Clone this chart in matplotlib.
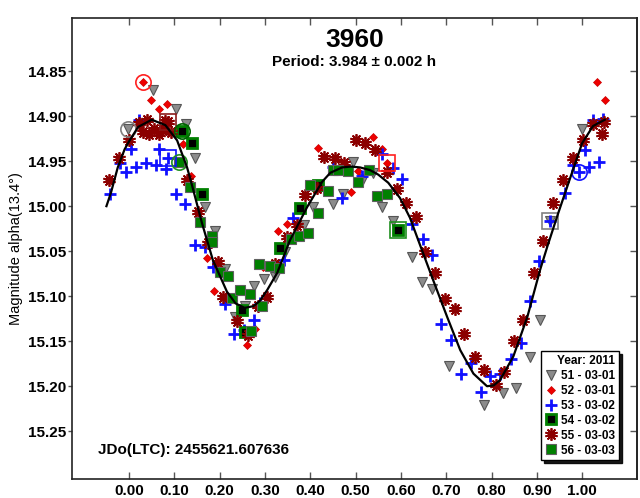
import numpy as np
import matplotlib.pyplot as plt

plt.rcParams['font.family'] = ['Liberation Sans', 'DejaVu Sans']
plt.rcParams['font.weight'] = 'bold'

# Phased photometry, one pair of lists per session (phase, magnitude)
s51_phase = [-0.002, 0.053, 0.104, 0.126, 0.146, 0.168, 0.19, 0.212, 0.234, 0.256, 0.276,
             0.298, 0.322, 0.344, 0.386, 0.406, 0.45, 0.472, 0.494, 0.517, 0.539, 0.559,
             0.583, 0.625, 0.647, 0.669, 0.706, 0.784, 0.826, 0.854, 0.885, 0.907, 0.929, 1.0]
s51_mag = [14.914, 14.871, 14.892, 14.909, 14.947, 15.001, 15.028, 15.07, 15.123, 15.111, 15.089,
           15.081, 15.079, 15.051, 15.021, 15.001, 14.998, 14.986, 14.951, 14.97, 14.963, 15.001,
           15.016, 15.057, 15.084, 15.092, 15.177, 15.221, 15.208, 15.202, 15.167, 15.126, 15.016, 14.914]

s52_phase = [0.031, 0.049, 0.066, 0.084, 0.119, 0.137, 0.172, 0.188, 0.26, 0.278, 0.296,
             0.329, 0.348, 0.417, 0.49, 0.505, 0.539, 0.559, 0.57, 1.033, 1.051]
s52_mag = [14.862, 14.882, 14.892, 14.887, 14.931, 14.967, 15.058, 15.094, 15.154, 15.136, 15.068,
           15.028, 15.02, 14.935, 14.984, 14.961, 14.923, 14.936, 14.952, 14.862, 14.882]

s53_phase = [-0.042, -0.02, -0.007, 0.004, 0.015, 0.022, 0.038, 0.06, 0.066, 0.082, 0.086,
             0.104, 0.124, 0.146, 0.168, 0.185, 0.212, 0.232, 0.254, 0.276, 0.289, 0.342,
             0.362, 0.45, 0.47, 0.514, 0.559, 0.583, 0.603, 0.625, 0.649, 0.669, 0.688, 0.71,
             0.733, 0.755, 0.777, 0.797, 0.819, 0.843, 0.865, 0.885, 0.905, 0.929, 0.962,
             0.98, 0.993, 1.007, 1.015, 1.024, 1.038, 1.046]
s53_mag = [14.986, 14.952, 14.962, 14.937, 14.957, 14.904, 14.952, 14.954, 14.937, 14.959, 14.946,
           14.987, 14.998, 15.043, 15.045, 15.068, 15.109, 15.142, 15.138, 15.126, 15.107, 15.06,
           15.013, 14.957, 14.991, 14.966, 14.942, 14.958, 14.97, 15.02, 15.036, 15.054, 15.131, 15.149,
           15.186, 15.174, 15.206, 15.189, 15.186, 15.17, 15.152, 15.105, 15.061, 15.016, 14.985,
           14.954, 14.962, 14.938, 14.957, 14.904, 14.951, 14.903]

s54_phase = [0.117, 0.139, 0.161, 0.249, 0.255, 0.333, 0.377, 0.417, 0.594]
s54_mag = [14.917, 14.930, 14.986, 15.115, 15.14, 15.047, 15.002, 14.976, 15.026]

s55_phase = [-0.044, -0.022, 0.0, 0.022, 0.03, 0.04, 0.045, 0.055, 0.065, 0.075, 0.08, 0.086,
             0.092, 0.128, 0.152, 0.175, 0.197, 0.208, 0.238, 0.263, 0.285, 0.304, 0.322,
             0.348, 0.37, 0.389, 0.415, 0.43, 0.455, 0.475, 0.501, 0.521, 0.543, 0.57, 0.592,
             0.611, 0.634, 0.653, 0.676, 0.698, 0.72, 0.74, 0.764, 0.784, 0.81, 0.828, 0.85,
             0.87, 0.894, 0.914, 0.936, 0.958, 0.98, 1.002, 1.024, 1.044, 1.048]
s55_mag = [14.971, 14.946, 14.926, 14.908, 14.918, 14.904, 14.92, 14.914, 14.92, 14.915, 14.905, 14.907,
           14.918, 14.971, 15.006, 15.041, 15.062, 15.101, 15.128, 15.143, 15.111, 15.101, 15.064,
           15.034, 15.021, 14.988, 14.98, 14.945, 14.947, 14.952, 14.927, 14.93, 14.938, 14.962, 14.981,
           14.996, 15.012, 15.051, 15.074, 15.103, 15.114, 15.142, 15.167, 15.182, 15.199, 15.184, 15.15,
           15.126, 15.074, 15.039, 14.996, 14.971, 14.946, 14.926, 14.909, 14.92, 14.907]

s56_phase = [0.11, 0.135, 0.157, 0.183, 0.183, 0.201, 0.218, 0.227, 0.245, 0.267, 0.269, 0.293,
             0.287, 0.311, 0.331, 0.357, 0.375, 0.395, 0.40, 0.417, 0.439, 0.45, 0.461, 0.483,
             0.505, 0.53, 0.547, 0.57]
s56_mag = [14.951, 14.979, 15.018, 15.033, 15.04, 15.073, 15.078, 15.102, 15.093, 15.098, 15.139, 15.111,
           15.064, 15.066, 15.069, 15.037, 15.033, 15.03, 14.976, 15.008, 14.983, 14.96, 14.96, 14.961,
           14.973, 14.96, 14.989, 14.987]

# first / last observation of each session
mark_phase = [-0.002, 0.031, 0.086, 0.117, 0.086, 0.110, 0.57, 0.594, 0.929, 0.993]
mark_mag = [14.914, 14.862, 14.907, 14.917, 14.946, 14.951, 14.952, 15.026, 15.016, 14.962]

# Fourier fit
curve_phase = [-0.05, -0.04, -0.025, -0.01, 0.0, 0.02, 0.05, 0.08, 0.106, 0.128, 0.139, 0.161,
               0.185, 0.216, 0.235, 0.255, 0.275, 0.289, 0.305, 0.327, 0.355, 0.393, 0.426,
               0.444, 0.47, 0.49, 0.51, 0.532, 0.55, 0.572, 0.598, 0.62, 0.645, 0.671, 0.702,
               0.731, 0.76, 0.79, 0.805, 0.819, 0.848, 0.879, 0.907, 0.923, 0.947, 0.974, 1.0,
               1.024, 1.05]
curve_mag = [15.000, 14.985, 14.957, 14.937, 14.928, 14.912, 14.904, 14.910, 14.927, 14.957, 14.977, 15.019,
             15.060, 15.095, 15.108, 15.113, 15.111, 15.105, 15.093, 15.074, 15.038, 15.001, 14.973,
             14.963, 14.957, 14.956, 14.957, 14.960, 14.965, 14.974, 14.991, 15.013, 15.047, 15.082, 15.123,
             15.160, 15.186, 15.200, 15.199, 15.193, 15.167, 15.123, 15.071, 15.045, 15.008, 14.968, 14.930,
             14.911, 14.904]

xticks = np.round(np.arange(0.0, 1.001, 0.1), 2)
yticks = np.round(np.arange(14.85, 15.251, 0.05), 2)

fig = plt.figure(figsize=(6.4, 4.98), dpi=100)
ax = fig.add_axes([0.1125, 0.0382, 0.8828, 0.9257])

styles = [
    ('51 - 03-01', s51_phase, s51_mag, dict(marker='v', ms=7, mfc='#8c8c8c', mec='#555555', mew=0.8)),
    ('52 - 03-01', s52_phase, s52_mag, dict(marker='D', ms=4.5, mfc='#ee0000', mec='#cc0000', mew=0.5)),
    ('53 - 03-02', s53_phase, s53_mag, dict(marker='+', ms=8, color='#1010ff', mew=2)),
    ('54 - 03-02', s54_phase, s54_mag, dict(marker='s', ms=6.5, mfc='black', mec='#008000', mew=2)),
    ('55 - 03-03', s55_phase, s55_mag, dict(marker=(10, 2, 0), ms=9, color='#8b0000', mew=1.3)),
    ('56 - 03-03', s56_phase, s56_mag, dict(marker='s', ms=6.5, mfc='#008000', mec='#606060', mew=0.8)),
]
for label, ph, mag, kw in styles:
    ax.plot(ph, mag, ls='none', label=label, **kw)

mark_style = [('o', '#808080'), ('o', '#ff2020'), ('s', '#8b1a1a'), ('o', '#006400'),
              ('s', '#1010ff'), ('o', '#1f8f1f'), ('s', '#ff2020'), ('s', '#1f8f1f'),
              ('s', '#808080'), ('o', '#1010ff')]
for p, m, (shape, c) in zip(mark_phase, mark_mag, mark_style):
    ax.plot(p, m, ls='none', marker=shape, ms=11, mfc='none', mec=c, mew=1.2)

ax.plot(curve_phase, curve_mag, color='black', lw=1.6)

ax.set_xlim(-0.126, 1.121)
ax.set_ylim(15.303, 14.791)
ax.set_xticks(xticks)
ax.set_xticklabels([f'{t:.2f}' for t in xticks])
ax.set_yticks(yticks)
ax.set_yticklabels([f'{t:.2f}' for t in yticks])
ax.tick_params(axis='x', direction='in', top=True, bottom=True, length=5, width=1,
               labelsize=11, pad=3.5, color='#555555')
ax.tick_params(axis='y', direction='out', left=True, right=False, length=3, width=1,
               labelsize=11, pad=1, color='#555555')
right = ax.secondary_yaxis('right')
right.set_yticks(yticks)
right.tick_params(direction='in', length=5, width=1, labelright=False, color='#555555')
for sp in list(ax.spines.values()) + [right.spines['right']]:
    sp.set_linewidth(1.2)
    sp.set_color('#222222')

ax.set_ylabel('Magnitude alpha(13.4°)', fontsize=10.5, labelpad=4)

ax.text(0.5, 0.952, '3960', transform=ax.transAxes, ha='center', va='center', fontsize=19)
ax.text(0.5, 0.905, 'Period: 3.984 ± 0.002 h', transform=ax.transAxes, ha='center', va='center',
        fontsize=11)
ax.text(0.046, 0.063, 'JDo(LTC): 2455621.607636', transform=ax.transAxes, ha='left', va='center',
        fontsize=11)

leg = ax.legend(loc='lower right', bbox_to_anchor=(0.968, 0.041), borderaxespad=0,
                title='Year: 2011', fontsize=8.5, title_fontsize=8.5, frameon=True,
                fancybox=False, shadow={'color': 'black', 'alpha': 0.9}, handlelength=1.0,
                handletextpad=0.4, labelspacing=0.25, borderpad=0.3, alignment='right')
leg.get_frame().set_edgecolor('black')
leg.get_frame().set_linewidth(1)

fig.savefig('out.png', dpi=100)
